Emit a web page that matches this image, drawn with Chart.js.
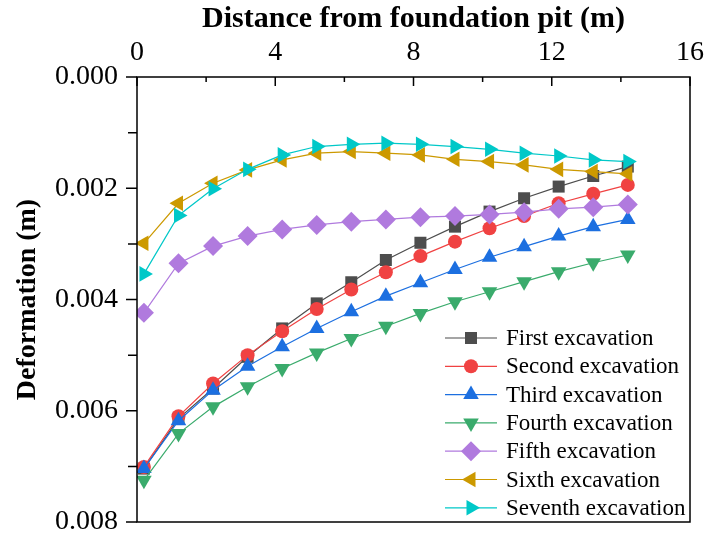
<!DOCTYPE html>
<html>
<head>
<meta charset="utf-8">
<script src="https://cdn.jsdelivr.net/npm/chart.js@4.4.0/dist/chart.umd.min.js"></script>
<style>
  html, body { margin: 0; padding: 0; background: #fff; }
  #wrap { width: 709px; height: 535px; }
</style>
</head>
<body>
<div id="wrap"><canvas id="deform-chart"></canvas></div>
<script>
// distance from pit (m)
const distance = [0.2, 1.2, 2.2, 3.2, 4.2, 5.2, 6.2, 7.2, 8.2, 9.2, 10.2, 11.2, 12.2, 13.2, 14.2];

// deformation (m)
const first   = [0.00704, 0.00614, 0.00560, 0.00503, 0.00452, 0.00407, 0.00369, 0.00329, 0.00298, 0.00269, 0.00242, 0.00218, 0.00197, 0.00178, 0.00161];
const second  = [0.00701, 0.00610, 0.00551, 0.00500, 0.00457, 0.00417, 0.00382, 0.00351, 0.00322, 0.00296, 0.00272, 0.00250, 0.00227, 0.00210, 0.00194];
const third   = [0.00704, 0.00618, 0.00563, 0.00520, 0.00485, 0.00452, 0.00422, 0.00394, 0.00370, 0.00346, 0.00324, 0.00305, 0.00286, 0.00269, 0.00256];
const fourth  = [0.00725, 0.00641, 0.00593, 0.00557, 0.00524, 0.00496, 0.00470, 0.00448, 0.00425, 0.00404, 0.00386, 0.00368, 0.00350, 0.00334, 0.00320];
const fifth   = [0.00424, 0.00335, 0.00304, 0.00286, 0.00274, 0.00266, 0.00260, 0.00256, 0.00252, 0.00250, 0.00247, 0.00243, 0.00237, 0.00234, 0.00229];
const sixth   = [0.00299, 0.00227, 0.00191, 0.00167, 0.00149, 0.00137, 0.00134, 0.00137, 0.00140, 0.00148, 0.00152, 0.00158, 0.00166, 0.00170, 0.00174];
const seventh = [0.00354, 0.00249, 0.00201, 0.00166, 0.00140, 0.00125, 0.00121, 0.00119, 0.00121, 0.00125, 0.00130, 0.00137, 0.00142, 0.00149, 0.00152];

const seriesNames = ['First excavation', 'Second excavation', 'Third excavation', 'Fourth excavation',
                     'Fifth excavation', 'Sixth excavation', 'Seventh excavation'];
const seriesValues = [first, second, third, fourth, fifth, sixth, seventh];

const xTicks = [0, 4, 8, 12, 16];
const yTicks = [0, 0.002, 0.004, 0.006, 0.008];

const colors  = ['#4d4d4d', '#f04242', '#1c6fe0', '#3aab6c', '#b07ade', '#cc9900', '#00c8c8'];
const styles  = ['rect', 'circle', 'triangle', 'triangle', 'rectRot', 'triangle', 'triangle'];
const rots    = [0, 0, 0, 180, 0, 270, 90];
const radii   = [8.5, 7, 9, 9, 10, 9, 9];

const serif = "'Liberation Serif', 'Times New Roman', serif";

const datasets = seriesNames.map((name, i) => ({
    label: name,
    data: distance.map((d, k) => ({ x: d, y: seriesValues[i][k] })),
    showLine: true,
    borderColor: colors[i],
    backgroundColor: colors[i],
    borderWidth: 1.2,
    pointStyle: styles[i],
    pointRotation: rots[i],
    pointRadius: radii[i],
    pointBorderWidth: 0,
    pointBackgroundColor: colors[i],
    order: 7 - i
}));

// frame, tick marks and in-plot legend
const decor = {
    id: 'decor',
    afterDraw(chart) {
        const ctx = chart.ctx;
        const a = chart.chartArea;
        const xs = chart.scales.x, ys = chart.scales.y;
        ctx.save();
        ctx.strokeStyle = '#000';
        ctx.lineWidth = 1.5;
        ctx.strokeRect(a.left, a.top, a.right - a.left, a.bottom - a.top);

        ctx.beginPath();
        for (let v = 0; v <= 16; v += 2) {
            const px = xs.getPixelForValue(v);
            const len = v % 4 === 0 ? 9 : 5;
            ctx.moveTo(px, a.top);
            ctx.lineTo(px, a.top + len);
        }
        for (let k = 0; k <= 8; k++) {
            const py = ys.getPixelForValue(k * 0.001);
            const len = k % 2 === 0 ? 11 : 9;
            ctx.moveTo(a.left, py);
            ctx.lineTo(a.left - len, py);
        }
        ctx.stroke();

        // legend
        const lx = a.right - 245, ly = a.bottom - 184, step = 28.3;
        ctx.font = '23px ' + serif;
        ctx.textBaseline = 'middle';
        ctx.textAlign = 'left';
        chart.data.datasets.forEach((ds, i) => {
            const y = ly + i * step;
            ctx.strokeStyle = ds.borderColor;
            ctx.lineWidth = 1.2;
            ctx.beginPath();
            ctx.moveTo(lx, y);
            ctx.lineTo(lx + 52, y);
            ctx.stroke();
            ctx.fillStyle = ds.borderColor;
            Chart.helpers.drawPoint(ctx, {
                pointStyle: ds.pointStyle, radius: ds.pointRadius,
                rotation: ds.pointRotation, borderWidth: 0
            }, lx + 26, y);
            ctx.fillStyle = '#000';
            ctx.fillText(ds.label, lx + 61, y + 1);
        });
        ctx.restore();
    }
};

const ctx = document.getElementById('deform-chart');

const myChart = new Chart(ctx, {
    type: 'scatter',
    data: { datasets },
    options: {
        responsive: true,
        maintainAspectRatio: false,
        animation: false,
        layout: { padding: { left: 0, right: 19, top: 0, bottom: 13 } },
        plugins: {
            legend: { display: false },
            tooltip: { enabled: false }
        },
        scales: {
            x: {
                type: 'linear',
                position: 'top',
                min: 0,
                max: 16,
                afterBuildTicks: s => { s.ticks = xTicks.map(v => ({ value: v })); },
                afterFit: s => { s.height = 77; s.paddingLeft = 0; s.paddingRight = 0; },
                ticks: { color: '#000', font: { family: serif, size: 28 }, padding: 8, maxRotation: 0 },
                grid: { display: false, drawTicks: false },
                border: { display: false },
                title: {
                    display: true,
                    text: 'Distance from foundation pit (m)',
                    color: '#000',
                    font: { family: serif, size: 30, weight: 'bold' },
                    padding: { top: 1, bottom: 0 }
                }
            },
            y: {
                type: 'linear',
                reverse: true,
                min: 0,
                max: 0.008,
                afterBuildTicks: s => { s.ticks = yTicks.map(v => ({ value: v })); },
                afterFit: s => { s.width = 137; s.paddingTop = 0; s.paddingBottom = 0; },
                ticks: {
                    color: '#000',
                    font: { family: serif, size: 28 },
                    padding: 19,
                    callback: v => v.toFixed(3)
                },
                grid: { display: false, drawTicks: false },
                border: { display: false },
                title: {
                    display: true,
                    text: 'Deformation (m)',
                    color: '#000',
                    font: { family: serif, size: 28, weight: 'bold' },
                    padding: { top: 11, bottom: 0 }
                }
            }
        }
    },
    plugins: [decor]
});
</script>
</body>
</html>
